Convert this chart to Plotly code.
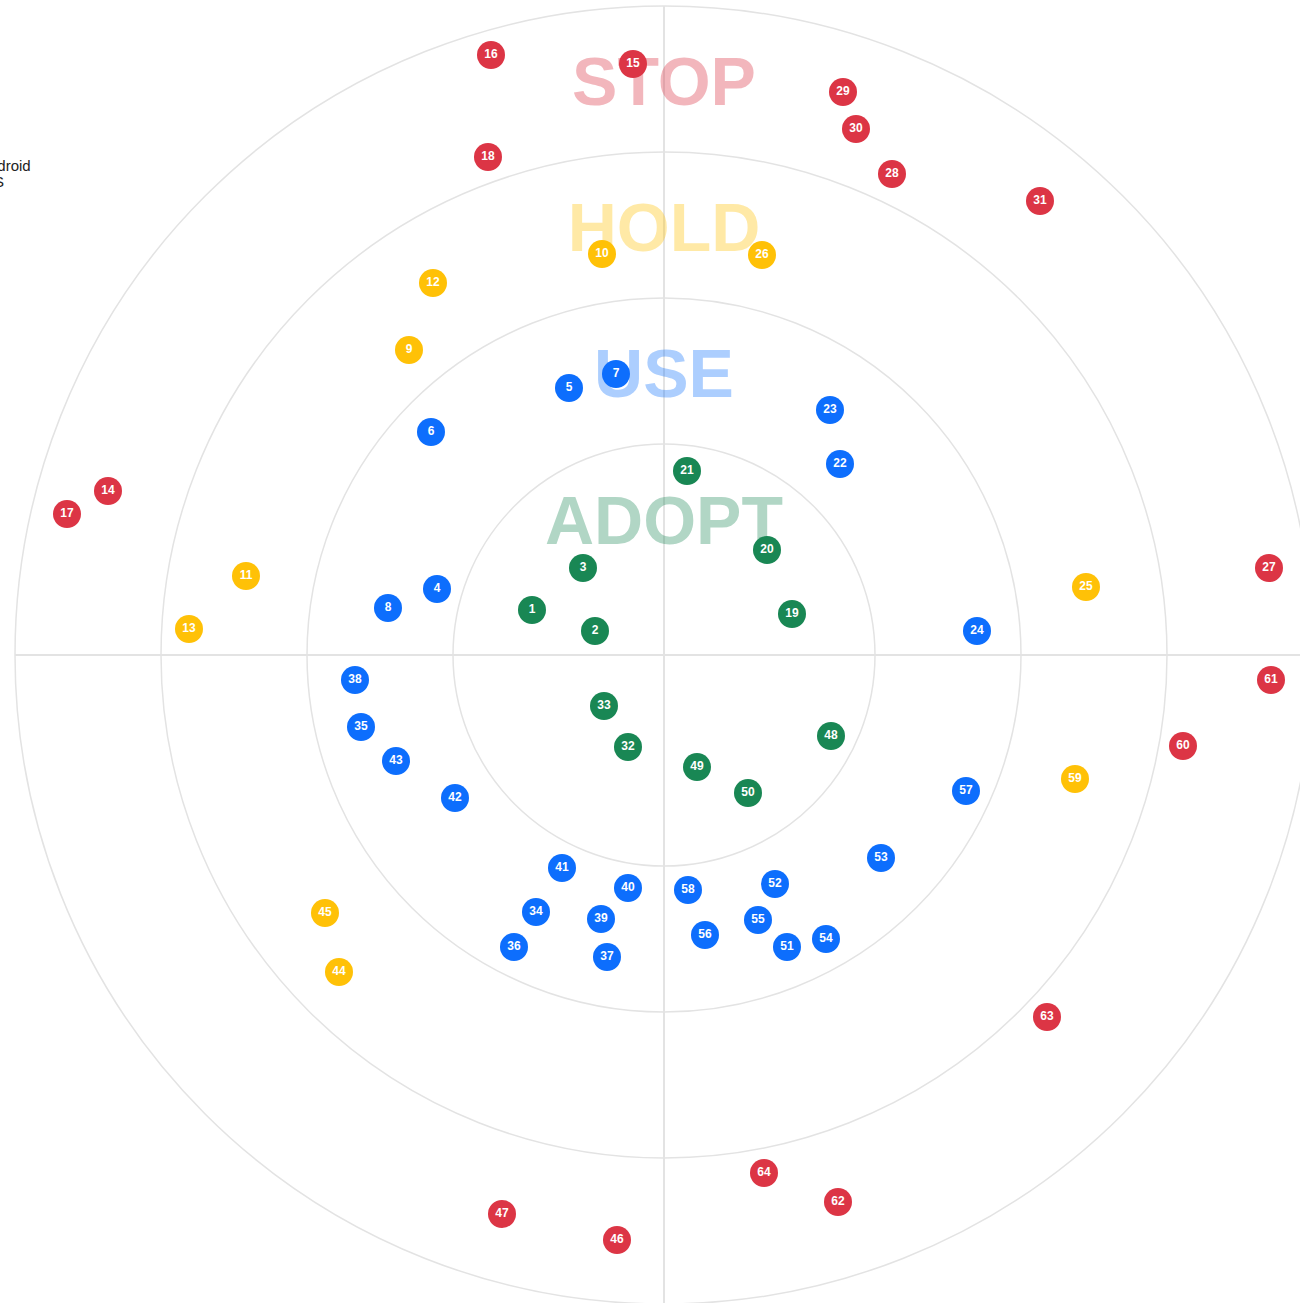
import plotly.graph_objects as go

# ---- data (blip positions in radar units; centre = 0,0, y up) ----
ring_names = ["ADOPT", "USE", "HOLD", "STOP"]
ring_radii = [211, 357, 503, 649]
ring_label_y = [128, 275, 421, 567]

adopt_ids = [21, 20, 3, 1, 2, 19, 33, 32, 48, 49, 50]
adopt_x = [23, 103, -81, -132, -69, 128, -60, -36, 167, 33, 84]
adopt_y = [184, 105, 87, 45, 24, 41, -51, -92, -81, -112, -138]

use_ids = [5, 7, 6, 23, 22, 4, 8, 24, 38, 35, 43, 42, 57, 53, 41, 40, 58, 52, 34, 39, 55, 36, 37, 56, 51, 54]
use_x = [-95, -48, -233, 166, 176, -227, -276, 313, -309, -303, -268, -209, 302, 217, -102, -36, 24, 111, -128, -63, 94, -150, -57, 41, 123, 162]
use_y = [267, 281, 223, 245, 191, 66, 47, 24, -25, -72, -106, -143, -136, -203, -213, -233, -235, -229, -257, -264, -265, -292, -302, -280, -292, -284]

hold_ids = [10, 26, 12, 9, 11, 13, 25, 59, 45, 44]
hold_x = [-62, 98, -231, -255, -418, -475, 422, 411, -339, -325]
hold_y = [401, 400, 372, 305, 79, 26, 68, -124, -258, -317]

stop_ids = [16, 15, 29, 30, 18, 28, 31, 14, 17, 27, 61, 60, 63, 64, 62, 47, 46]
stop_x = [-173, -31, 179, 192, -176, 228, 376, -556, -597, 605, 607, 519, 383, 100, 174, -162, -47]
stop_y = [600, 591, 563, 526, 498, 481, 454, 164, 141, 87, -25, -91, -362, -518, -547, -559, -585]

legend_labels = ["Android", "iOS"]

# ---- styles ----
ring_colors = {"ADOPT": "#198754", "USE": "#0d6efd", "HOLD": "#ffc107", "STOP": "#dc3545"}
ring_text_colors = {
    "ADOPT": "rgba(25,135,84,0.34)",
    "USE": "rgba(13,110,253,0.34)",
    "HOLD": "rgba(255,193,7,0.36)",
    "STOP": "rgba(220,53,69,0.36)",
}
GRID = "#e3e3e3"

fig = go.Figure()

# ring labels (drawn first so blips sit on top)
fig.add_trace(go.Scatter(
    x=[0] * len(ring_names), y=ring_label_y, mode="text",
    text=ring_names, textposition="middle center",
    textfont=dict(family="Liberation Sans, Arial, sans-serif", size=68, weight="bold",
                  color=[ring_text_colors[n] for n in ring_names]),
    hoverinfo="skip", showlegend=False,
))

series = [
    ("ADOPT", adopt_ids, adopt_x, adopt_y),
    ("USE", use_ids, use_x, use_y),
    ("HOLD", hold_ids, hold_x, hold_y),
    ("STOP", stop_ids, stop_x, stop_y),
]
for name, ids, xs, ys in series:
    fig.add_trace(go.Scatter(
        x=xs, y=ys, mode="markers+text",
        text=[str(i) for i in ids], textposition="middle center",
        textfont=dict(family="Liberation Sans, Arial, sans-serif", size=12, color="white", weight="bold"),
        marker=dict(size=28, color=ring_colors[name], line=dict(width=0)),
        name=name, showlegend=False,
    ))

shapes = []
for r in ring_radii:
    shapes.append(dict(type="circle", xref="x", yref="y", x0=-r, y0=-r, x1=r, y1=r,
                       line=dict(color=GRID, width=1.5), layer="below"))
R = ring_radii[-1]
shapes.append(dict(type="line", xref="x", yref="y", x0=-R, y0=0, x1=R, y1=0,
                   line=dict(color=GRID, width=2), layer="below"))
shapes.append(dict(type="line", xref="x", yref="y", x0=0, y0=-R, x1=0, y1=R,
                   line=dict(color=GRID, width=2), layer="below"))

annotations = []
for k, lab in enumerate(legend_labels):
    annotations.append(dict(
        x=-23 / 1300, y=1 - (165 + 16 * k) / 1303, xref="paper", yref="paper",
        xanchor="left", yanchor="middle", text=lab, showarrow=False,
        font=dict(family="Liberation Sans, Arial, sans-serif", size=15, color="#222"),
    ))

fig.update_layout(
    width=1300, height=1303,
    margin=dict(l=0, r=0, t=0, b=0),
    paper_bgcolor="white", plot_bgcolor="white",
    xaxis=dict(range=[-664, 636], visible=False, fixedrange=True),
    yaxis=dict(range=[-648, 655], visible=False, fixedrange=True),
    shapes=shapes, annotations=annotations,
    showlegend=False,
)

fig.write_html("out.html", config={"displayModeBar": False},
               post_script="document.body.style.margin='0';document.body.style.overflow='hidden';")
